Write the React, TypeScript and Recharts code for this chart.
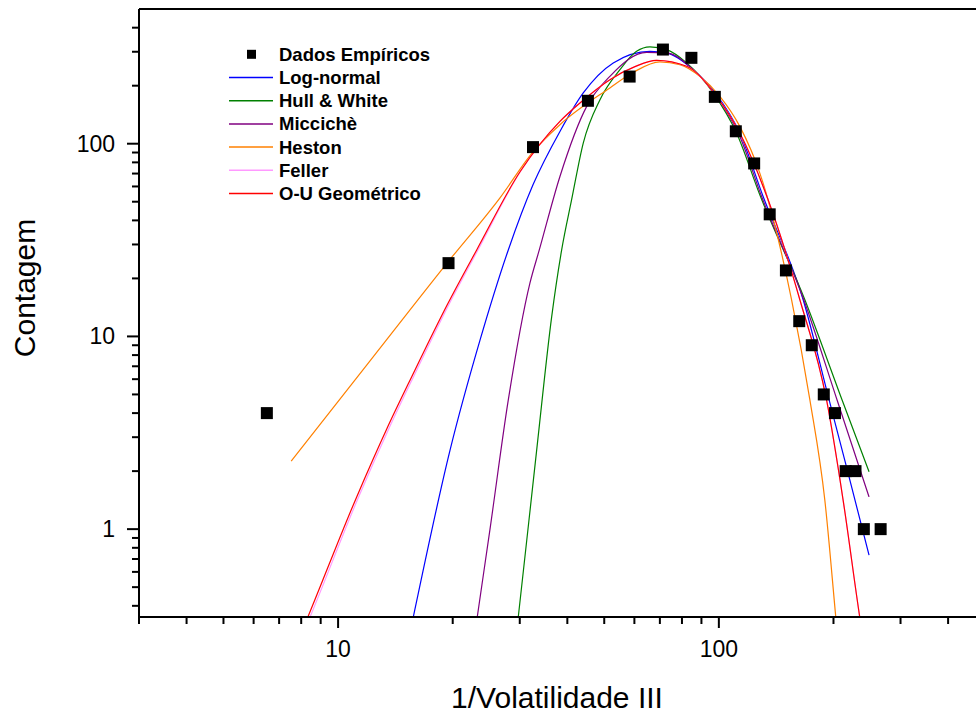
import React from 'react';
import { ComposedChart, Line, Scatter, XAxis, YAxis, Legend } from 'recharts';

// Empirical histogram (bin centre of 1/volatility, count)
const empiricalX = [6.5, 19.5, 32.5, 45.3, 58.3, 71.3, 84.7, 97.6, 110.8, 123.8, 136, 150, 162.6, 175.4, 188.6, 201.8, 215.3, 228.5, 240.3, 266];
const empiricalY = [4, 24, 96, 167, 223, 308, 279, 175, 116, 79, 43, 22, 12, 9, 5, 4, 2, 2, 1, 1];

// Fitted curves
const logNormalX = [15.45, 15.76, 19.68, 23.6, 27.99, 32.5, 38.25, 44.04, 52.8, 65.9, 72.9, 85.6, 98.6, 113.5, 130.7, 166.5, 194.8, 216.3, 248.0];
const logNormalY = [0.29, 0.35, 2.57, 9.59, 28.1, 61.2, 115.8, 183.4, 262.6, 301.6, 296.0, 242.3, 179.7, 113.6, 53.2, 15.5, 4.68, 2.11, 0.733];

const hullWhiteX = [29.41, 29.73, 33.23, 36.39, 38.65, 41.05, 44.04, 48.73, 54.98, 60.8, 65.9, 72.9, 82.3, 96.6, 111.3, 128.1, 168.2, 210.7, 248.0];
const hullWhiteY = [0.29, 0.35, 2.57, 12.67, 28.1, 51.2, 100.8, 169.3, 242.3, 301.6, 317.9, 307.8, 262.6, 183.4, 113.6, 54.3, 15.5, 4.68, 1.985];

const micciX = [22.89, 23.2, 25.06, 27.99, 31.9, 33.76, 38.25, 44.97, 51.74, 64.6, 72.9, 85.6, 98.6, 113.5, 129.5, 167.1, 204.4, 248.0];
const micciY = [0.29, 0.35, 1.0, 4.68, 18.9, 28.1, 67.6, 156.2, 223.7, 298.1, 296.0, 242.3, 176.1, 109.1, 53.2, 15.5, 4.68, 1.47];

const hestonX = [7.53, 12.13, 19.44, 26.62, 32.5, 38.25, 51.74, 59.6, 70.0, 79.0, 89.1, 100.6, 113.5, 128.1, 155.2, 173.4, 189.8, 202.8, 205.3];
const hestonY = [2.255, 7.47, 24.38, 52.4, 90.8, 125.5, 194.7, 234.6, 265.7, 257.3, 223.7, 176.1, 123.0, 70.4, 15.5, 4.68, 1.415, 0.35, 0.27];

const fellerX = [8.05, 8.44, 11.32, 13.58, 15.78, 19.62, 23.3, 30.1, 38.25, 43.17, 51.74, 60.2, 68.6, 82.3, 98.6, 113.5, 134.7, 163.2, 191.8, 212.0, 234.4, 238.8];
const fellerY = [0.28, 0.35, 1.47, 3.31, 6.18, 14.86, 28.1, 71.5, 130.6, 162.7, 215.0, 251.2, 270.8, 252.1, 176.1, 113.6, 51.2, 15.5, 4.68, 1.415, 0.35, 0.275];

const ouX = [7.95, 8.33, 11.19, 13.42, 15.61, 19.44, 23.12, 30.05, 38.25, 43.17, 51.74, 60.2, 68.6, 82.3, 98.6, 113.5, 134.7, 163.2, 191.8, 212.0, 234.4, 238.8];
const ouY = [0.28, 0.35, 1.47, 3.31, 6.18, 14.86, 28.1, 71.5, 130.6, 162.7, 215.0, 251.2, 270.8, 252.1, 176.1, 113.6, 51.2, 15.5, 4.68, 1.415, 0.35, 0.275];

// Axis ticks
const xTicks = [3, 4, 5, 6, 7, 8, 9, 10, 20, 30, 40, 50, 60, 70, 80, 90, 100, 200, 300, 400];
const xMajor = [10, 100];
const yTicks = [0.4, 0.5, 0.6, 0.7, 0.8, 0.9, 1, 2, 3, 4, 5, 6, 7, 8, 9, 10, 20, 30, 40, 50, 60, 70, 80, 90, 100, 200, 300, 400];
const yMajor = [1, 10, 100];

const xTitle = '1/Volatilidade III';
const yTitle = 'Contagem';

const zip = (xs: number[], ys: number[]) => xs.map((x, i) => ({ x, y: ys[i] }));

const series = [
  { name: 'Log-normal', color: '#0000ff', data: zip(logNormalX, logNormalY) },
  { name: 'Hull & White', color: '#008000', data: zip(hullWhiteX, hullWhiteY) },
  { name: 'Miccichè', color: '#800080', data: zip(micciX, micciY) },
  { name: 'Heston', color: '#ff8000', data: zip(hestonX, hestonY) },
  { name: 'Feller', color: '#ff99ff', data: zip(fellerX, fellerY) },
  { name: 'O-U Geométrico', color: '#ff0000', data: zip(ouX, ouY) },
];
const empirical = zip(empiricalX, empiricalY);

const FONT = '"Liberation Sans", Arial, sans-serif';
const AX_LEFT = 139;
const AX_BOTTOM = 617;
const AX_TOP = 9;

const BottomTick = (props: any) => {
  const { x, payload } = props;
  const major = xMajor.includes(payload.value);
  return (
    <g>
      <line x1={x} x2={x} y1={AX_BOTTOM} y2={AX_BOTTOM + (major ? 11 : 7)} stroke="#000" strokeWidth={2} />
      {major && (
        <text x={x} y={649} textAnchor="middle" dominantBaseline="central" fontFamily={FONT} fontSize={23} fill="#000">
          {payload.value}
        </text>
      )}
    </g>
  );
};

const TopTick = (props: any) => {
  const { x, payload } = props;
  const major = xMajor.includes(payload.value);
  return <line x1={x} x2={x} y1={AX_TOP} y2={AX_TOP + (major ? 5 : 3)} stroke="#000" strokeWidth={2} />;
};

const LeftTick = (props: any) => {
  const { y, payload } = props;
  const major = yMajor.includes(payload.value);
  return (
    <g>
      <line x1={AX_LEFT - (major ? 12 : 7)} x2={AX_LEFT} y1={y} y2={y} stroke="#000" strokeWidth={2} />
      {major && (
        <text x={115} y={y} textAnchor="end" dominantBaseline="central" fontFamily={FONT} fontSize={23} fill="#000">
          {payload.value}
        </text>
      )}
    </g>
  );
};

const renderLegend = () => {
  const rows = [{ name: 'Dados Empíricos', color: '#000', marker: true }, ...series.map((s) => ({ name: s.name, color: s.color, marker: false }))];
  return (
    <svg width={460} height={215} style={{ position: 'absolute', left: 0, top: 0, pointerEvents: 'none' }}>
      {rows.map((r, i) => {
        const cy = 54.3 + i * 23.2;
        return (
          <g key={r.name}>
            {r.marker ? (
              <rect x={247} y={cy - 4.5} width={9} height={9} fill="#000" />
            ) : (
              <line x1={229} x2={273} y1={cy} y2={cy} stroke={r.color} strokeWidth={1.5} />
            )}
            <text x={279} y={cy} dominantBaseline="central" fontFamily={FONT} fontSize={18.5} fontWeight="bold" fill="#000">
              {r.name}
            </text>
          </g>
        );
      })}
    </svg>
  );
};

const SquareDot = (props: any) => {
  const { cx, cy } = props;
  if (cx == null || cy == null) return <g />;
  return <rect x={cx - 6} y={cy - 6} width={12} height={12} fill="#000" />;
};

export default function App() {
  return (
    <div style={{ position: 'absolute', left: 0, top: 0, width: 976, height: 715, overflow: 'hidden', background: '#fff' }}>
      <ComposedChart width={1000} height={715} margin={{ top: 0, right: 15, bottom: 0, left: 0 }}>
        <XAxis
          dataKey="x"
          type="number"
          scale="log"
          domain={[3, 500]}
          allowDataOverflow
          ticks={xTicks}
          interval={0}
          height={98}
          tickSize={0}
          tickMargin={0}
          tickLine={false}
          axisLine={{ stroke: '#000', strokeWidth: 2 }}
          tick={BottomTick}
          label={() => (
            <text x={557} y={708} textAnchor="middle" fontFamily={FONT} fontSize={30} fill="#000">
              {xTitle}
            </text>
          )}
        />
        <XAxis
          xAxisId="top"
          orientation="top"
          type="number"
          scale="log"
          domain={[3, 500]}
          allowDataOverflow
          ticks={xTicks}
          interval={0}
          height={AX_TOP}
          tickSize={0}
          tickMargin={0}
          tickLine={false}
          axisLine={{ stroke: '#000', strokeWidth: 2 }}
          tick={TopTick}
        />
        <YAxis
          dataKey="y"
          type="number"
          scale="log"
          domain={[0.35, 500]}
          allowDataOverflow
          ticks={yTicks}
          interval={0}
          width={AX_LEFT}
          tickSize={0}
          tickMargin={0}
          tickLine={false}
          axisLine={{ stroke: '#000', strokeWidth: 2 }}
          tick={LeftTick}
          label={() => (
            <text x={35} y={288} transform="rotate(-90, 35, 288)" textAnchor="middle" fontFamily={FONT} fontSize={30} fill="#000">
              {yTitle}
            </text>
          )}
        />
        {series.map((s) => (
          <Line
            key={s.name}
            name={s.name}
            data={s.data}
            dataKey="y"
            type="monotone"
            stroke={s.color}
            strokeWidth={1.2}
            dot={false}
            activeDot={false}
            isAnimationActive={false}
          />
        ))}
        <Scatter name="Dados Empíricos" data={empirical} dataKey="y" fill="#000" shape={SquareDot} isAnimationActive={false} />
        <Legend
          verticalAlign="middle"
          align="center"
          layout="horizontal"
          content={renderLegend}
          wrapperStyle={{ left: 0, top: 0, width: 460, height: 215 }}
        />
      </ComposedChart>
    </div>
  );
}
